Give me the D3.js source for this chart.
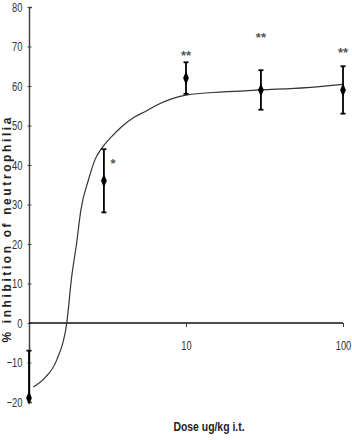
<!DOCTYPE html>
<html>
<head>
<meta charset="utf-8">
<script src="https://cdn.jsdelivr.net/npm/d3@7"></script>
<style>
  body { margin: 0; background: #fff; }
  svg { display: block; }
</style>
</head>
<body>
<div id="chart"></div>
<script>
// measured points: dose (ug/kg), mean % inhibition, error bar limits
const doses = [1, 3, 10, 30, 100];
const means = [-19, 36, 62, 59, 59];
const upper = [-7, 44, 66, 64, 65];
const lower = [-31, 28, 58, 54, 53];

// significance marks
const starDoses = [3, 10, 30, 100];
const starText = ["*", "**", "**", "**"];
const starValues = [40.5, 67.8, 72.2, 68.4];

// fitted curve
const curveDose = [1.065, 1.26, 1.5, 1.74, 1.87, 2.01, 2.14, 2.39, 2.63, 2.9, 3.36, 3.89, 4.73, 5.48, 6.53, 10, 17.2, 30, 59, 100];
const curveValue = [-16.2, -13.9, -9.4, 0, 11.7, 20.2, 28.6, 36.2, 41.3, 44.2, 47.2, 49.7, 52.2, 53.5, 55.2, 57.7, 58.5, 59, 59.6, 60.4];

const yTicks = [-20, -10, 0, 10, 20, 30, 40, 50, 60, 70, 80];
const xTicks = [10, 100];

const width = 352, height = 440;
const sans = "'Liberation Sans', Arial, sans-serif";

const svg = d3.select("#chart").append("svg")
    .attr("width", width)
    .attr("height", height);

const x = d3.scaleLog().domain([1, 100]).range([29, 343]);
const y = d3.scaleLinear().domain([-20, 80]).range([402, 7]);

// y axis
const yAxis = d3.axisLeft(y)
    .tickValues(yTicks)
    .tickSize(-3)
    .tickPadding(9)
    .tickFormat(d3.format("d"));

const gy = svg.append("g")
    .attr("transform", "translate(" + x(1) + ",0)")
    .call(yAxis);
gy.select(".domain").attr("stroke", "#444").attr("stroke-width", 1.5);
gy.selectAll(".tick line").attr("stroke", "#444").attr("x1", -1.5).attr("x2", 2.5);
gy.selectAll(".tick text")
    .attr("font-family", sans)
    .attr("font-size", 13)
    .attr("fill", "#333")
    .attr("transform", "scale(0.72,1)");

// x axis sits on the zero line
const xAxis = d3.axisBottom(x)
    .tickValues(xTicks)
    .tickSize(4)
    .tickPadding(14)
    .tickFormat(d3.format("d"));

const gx = svg.append("g")
    .attr("transform", "translate(0," + y(0) + ")")
    .call(xAxis);
gx.select(".domain").attr("stroke", "#111").attr("stroke-width", 1.5).attr("d", "M" + x(1) + ",0H" + x(100));
gx.selectAll(".tick line").attr("stroke", "#333");
gx.selectAll(".tick text")
    .attr("font-family", sans)
    .attr("font-size", 13)
    .attr("fill", "#333")
    .attr("transform", "scale(0.72,1)");

// axis titles
svg.append("text")
    .attr("transform", "translate(11,230) rotate(-90)")
    .attr("text-anchor", "middle")
    .attr("font-family", sans)
    .attr("font-weight", "bold")
    .attr("font-size", 12)
    .attr("fill", "#222")
    .attr("textLength", 225)
    .attr("lengthAdjust", "spacing")
    .text("% inhibition of neutrophilia");

svg.append("text")
    .attr("transform", "translate(209,431) scale(0.8,1)")
    .attr("text-anchor", "middle")
    .attr("font-family", sans)
    .attr("font-weight", "bold")
    .attr("font-size", 13)
    .attr("fill", "#222")
    .text("Dose ug/kg i.t.");

// fitted curve
const curvePts = curveDose.map((d, i) => [d, curveValue[i]]);
const line = d3.line()
    .x(d => x(d[0]))
    .y(d => y(d[1]))
    .curve(d3.curveMonotoneX);

svg.append("path")
    .datum(curvePts)
    .attr("fill", "none")
    .attr("stroke", "#333")
    .attr("stroke-width", 1.2)
    .attr("d", line);

// error bars
const data = doses.map((d, i) => ({dose: d, mean: means[i], hi: upper[i], lo: lower[i]}));
const yMin = y.domain()[0];

const bars = svg.append("g")
    .attr("stroke", "#000")
    .selectAll("g")
    .data(data)
    .join("g")
    .attr("transform", d => "translate(" + x(d.dose) + ",0)");

bars.append("line")
    .attr("stroke-width", 1.8)
    .attr("y1", d => y(d.hi))
    .attr("y2", d => y(Math.max(d.lo, yMin)));

bars.append("line")
    .attr("stroke-width", 1.8)
    .attr("x1", -2.5).attr("x2", 2.5)
    .attr("y1", d => y(d.hi)).attr("y2", d => y(d.hi));

bars.filter(d => d.lo >= yMin).append("line")
    .attr("stroke-width", 1.8)
    .attr("x1", -2.5).attr("x2", 2.5)
    .attr("y1", d => y(d.lo)).attr("y2", d => y(d.lo));

// markers
svg.append("g")
    .selectAll("path")
    .data(data)
    .join("path")
    .attr("transform", d => "translate(" + x(d.dose) + "," + y(d.mean) + ") scale(0.85,1.15)")
    .attr("d", d3.symbol(d3.symbolDiamond, 40))
    .attr("fill", "#000");

// stars
svg.append("g")
    .selectAll("text")
    .data(starDoses)
    .join("text")
    .attr("x", (d, i) => x(d) + (starText[i] === "*" ? 9 : 0))
    .attr("y", (d, i) => y(starValues[i]))
    .attr("dy", "0.35em")
    .attr("text-anchor", "middle")
    .attr("font-family", sans)
    .attr("font-size", 13)
    .attr("font-weight", "bold")
    .attr("fill", "#555")
    .text((d, i) => starText[i]);
</script>
</body>
</html>
